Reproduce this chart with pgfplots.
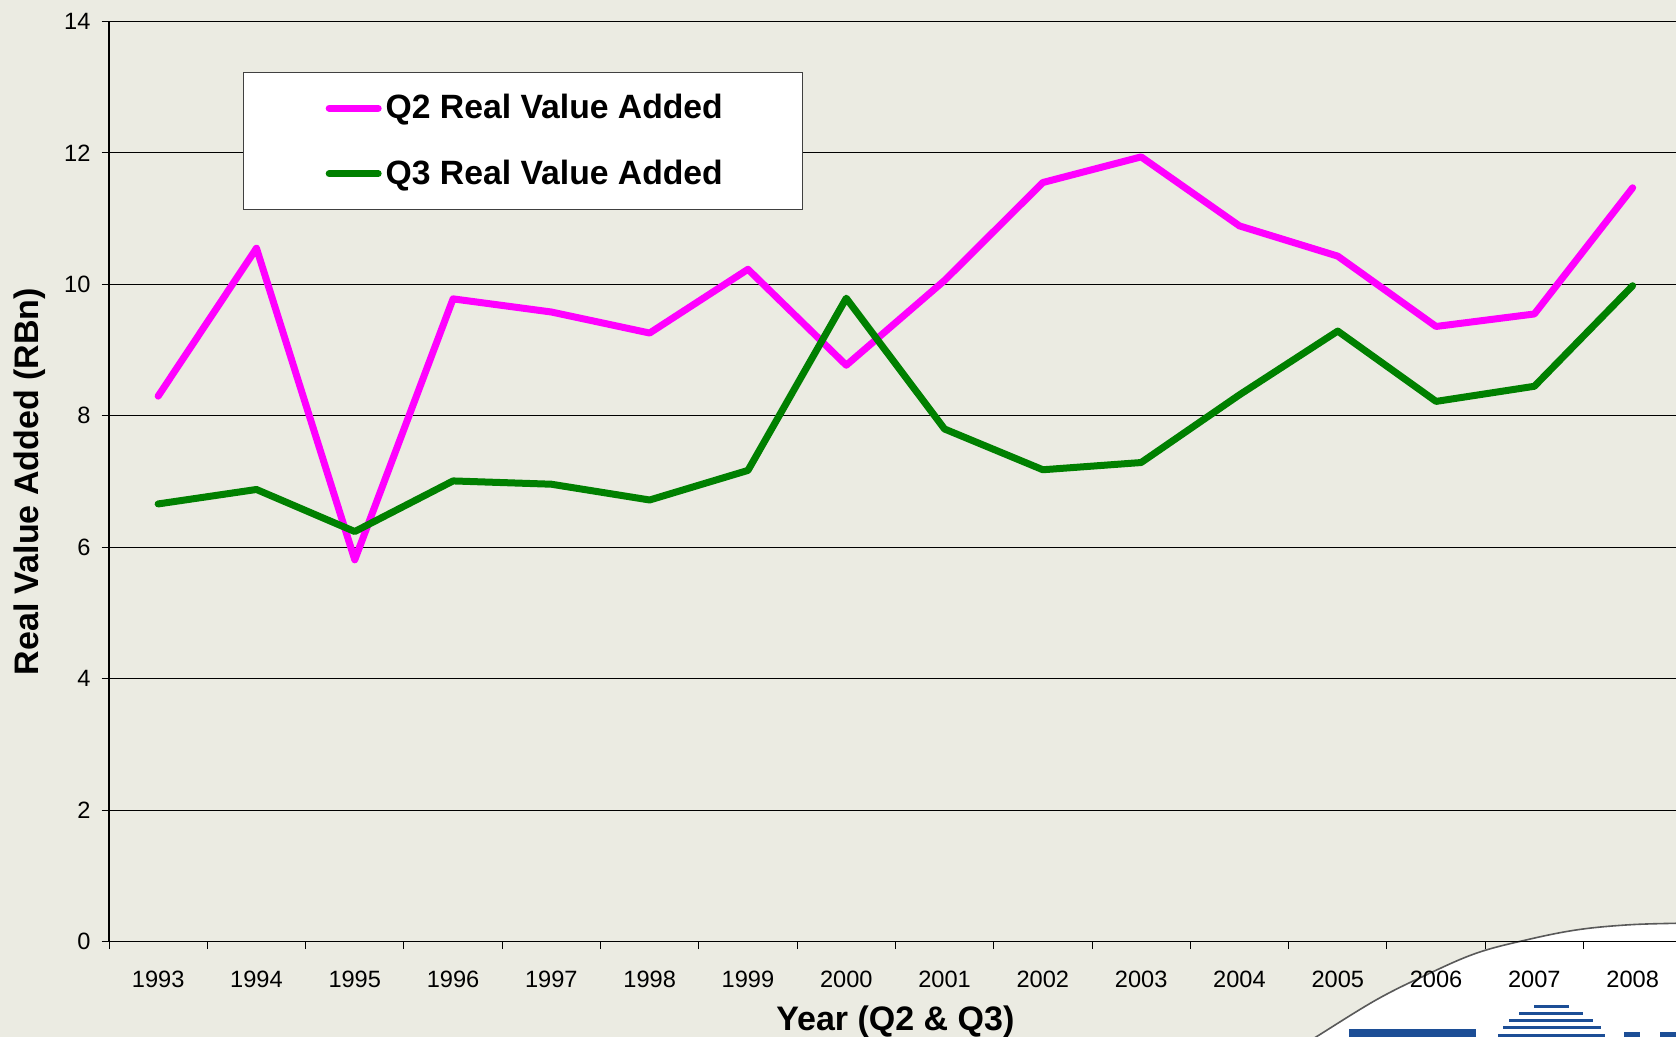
\documentclass[border=0pt]{standalone}
\usepackage{fontspec}
\setmainfont{Liberation Sans}
\usepackage{pgfplots}
\pgfplotsset{compat=1.18}
\newlength\px \setlength\px{0.5pt}
\definecolor{bg}{RGB}{235,235,226}
\definecolor{q2}{RGB}{255,0,255}
\definecolor{q3}{RGB}{0,128,0}
\definecolor{logoblue}{RGB}{28,78,150}
\begin{document}
\begin{tikzpicture}
\fill[bg] (0,0) rectangle (1676\px,1037\px);
% logo (decoration, bottom right), drawn behind the axis
\fill[white] plot[smooth, tension=0.6] coordinates {(1300\px,-10\px) (1316\px,0\px) (1376\px,37\px) (1426\px,62\px) (1476\px,83.7\px) (1526\px,97\px) (1576\px,107\px) (1626\px,112\px) (1676\px,113.7\px) (1720\px,114\px)} -- (1720\px,-10\px) -- cycle;
\draw[gray!70!black, line width=1.6\px] plot[smooth, tension=0.6] coordinates {(1300\px,-10\px) (1316\px,0\px) (1376\px,37\px) (1426\px,62\px) (1476\px,83.7\px) (1526\px,97\px) (1576\px,107\px) (1626\px,112\px) (1676\px,113.7\px) (1720\px,114\px)};
\fill[logoblue] (1349\px,-2\px) rectangle (1476\px,7.7\px);
\fill[logoblue] (1534\px,29\px) rectangle (1569\px,31.5\px);
\fill[logoblue] (1519\px,22\px) rectangle (1583\px,24.5\px);
\fill[logoblue] (1509\px,15\px) rectangle (1593\px,17.5\px);
\fill[logoblue] (1503\px,8\px) rectangle (1601\px,10.5\px);
\fill[logoblue] (1498\px,-2\px) rectangle (1605\px,3\px);
\fill[logoblue] (1624\px,-2\px) rectangle (1640\px,5\px);
\fill[logoblue] (1660\px,-2\px) rectangle (1676\px,5\px);
\begin{axis}[
  at={(109\px,95.3\px)}, anchor=south west,
  scale only axis, width=1572.8\px, height=920.2\px,
  xmin=0.5, xmax=16.5, ymin=0, ymax=14,
  xtick={1,...,16},
  xticklabels={1993,1994,1995,1996,1997,1998,1999,2000,2001,2002,2003,2004,2005,2006,2007,2008},
  major x tick style={draw=none},
  minor xtick={0.5,1.5,...,16.5},
  ytick={0,2,...,14},
  xtick pos=lower, ytick pos=left,
  tick align=outside,
  major tick length=7.5\px, minor tick length=7.5\px,
  ymajorgrids, grid style={black, line width=1\px},
  axis line style={black, line width=1.2\px},
  tick style={black, line width=1\px},
  ticklabel style={font=\fontsize{11.8pt}{14pt}\selectfont},
  /pgf/number format/assume math mode=true,
  xticklabel style={anchor=center, yshift=-30.6\px},
  yticklabel style={anchor=east, xshift=-4\px},
  xlabel={Year (Q2 \& Q3)},
  ylabel={Real Value Added (RBn)},
  label style={font=\bfseries\fontsize{17pt}{20pt}\selectfont},
  xlabel style={at={(axis description cs:0.5,-0.0872)}, anchor=center},
  ylabel style={at={(axis description cs:-0.05023,0.5)}, anchor=center},
  legend style={at={(axis description cs:0.085,0.9451)}, anchor=north west,
    fill=white, draw=black!75, line width=1\px,
    font=\bfseries\fontsize{16.85pt}{20pt}\selectfont,
    inner xsep=38pt, inner ysep=9pt, row sep=15pt},
  legend cell align=left,
  legend image code/.code={\path (-6.5\px,0); \draw[#1, line cap=round] (0,0) -- (49\px,0);},
]
\addplot[q2, line width=7\px, line join=round, line cap=round] coordinates {
(1,8.30) (2,10.55) (3,5.81) (4,9.78) (5,9.58) (6,9.26) (7,10.23) (8,8.77)
(9,10.06) (10,11.55) (11,11.94) (12,10.89) (13,10.43) (14,9.36) (15,9.55) (16,11.47)};
\addlegendentry{Q2 Real Value Added}
\addplot[q3, line width=7\px, line join=round, line cap=round] coordinates {
(1,6.66) (2,6.88) (3,6.24) (4,7.01) (5,6.96) (6,6.72) (7,7.17) (8,9.79)
(9,7.80) (10,7.18) (11,7.29) (12,8.32) (13,9.29) (14,8.22) (15,8.45) (16,9.98)};
\addlegendentry{Q3 Real Value Added}
\end{axis}
\pgfresetboundingbox
\path[use as bounding box] (0,0) rectangle (1676\px,1037\px);
\end{tikzpicture}
\end{document}
